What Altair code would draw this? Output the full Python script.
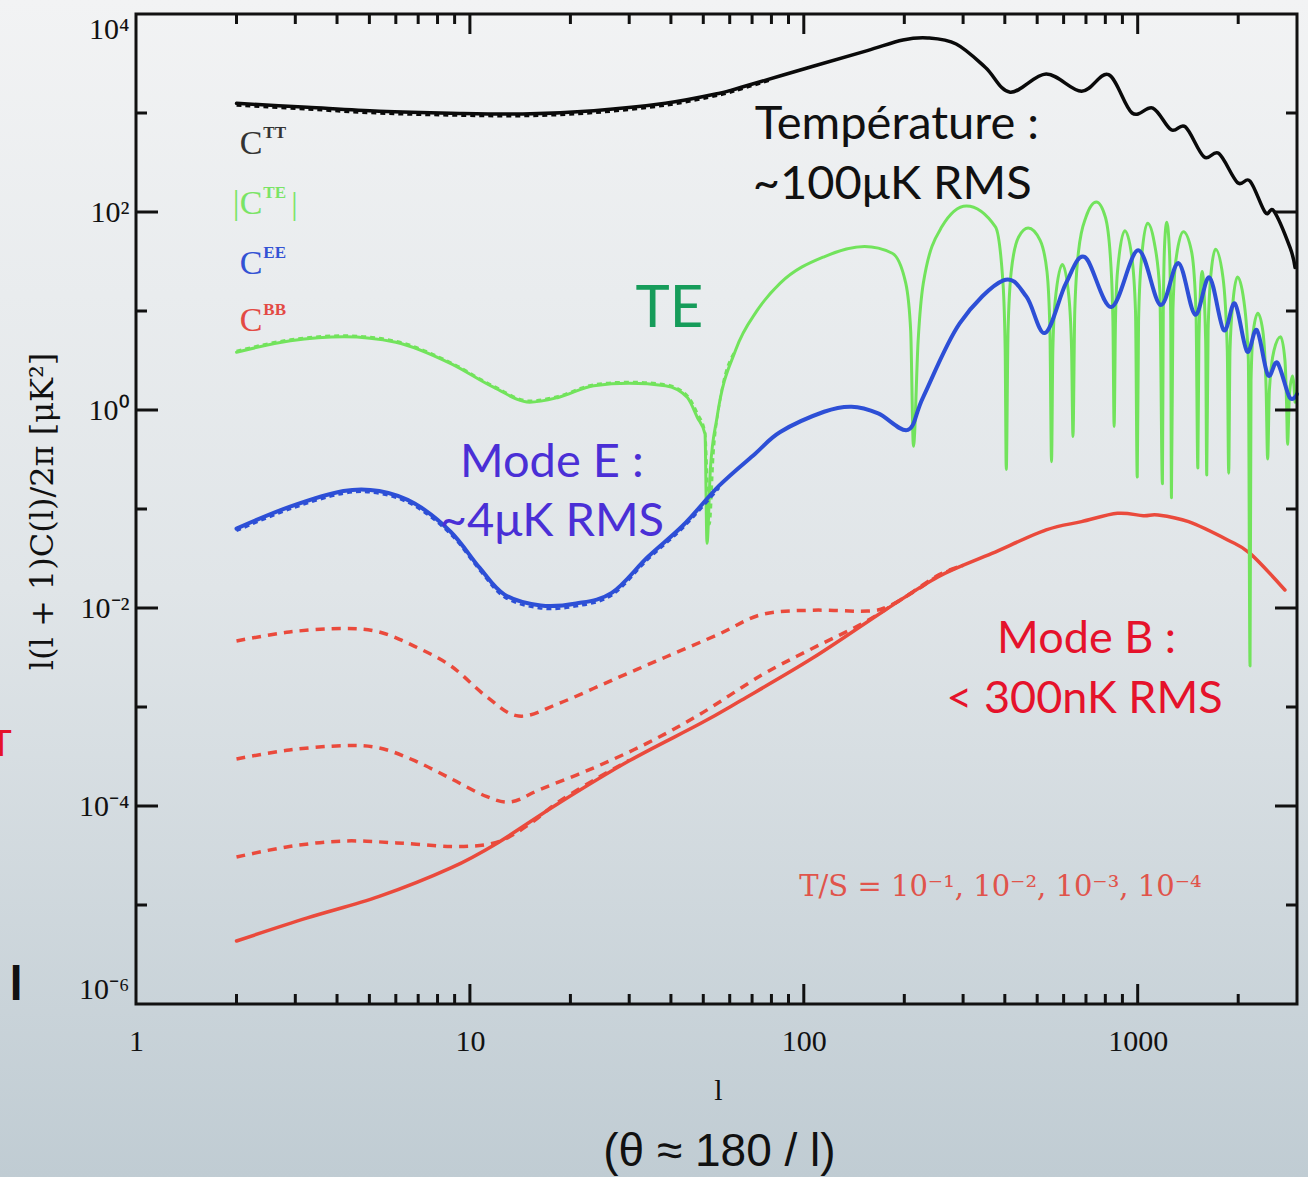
import altair as alt
import pandas as pd

PLOT_W, PLOT_H = 1161, 990

# ---------------- CMB power spectra, l(l+1)C_l/2pi in muK^2 ----------------
tt_l = [2, 3.26, 5.35, 8.77, 14.4, 23.5, 38.5, 56, 65, 106,
        155, 198, 235, 286, 350, 415, 532, 679, 818, 962,
        1110, 1260, 1390, 1580, 1750, 1990, 2170, 2410, 2560, 2860, 2960]
tt_v = [1253, 1140, 1040, 993, 977, 1054, 1253, 1585, 1820, 2950,
        4266, 5458, 5728, 4977, 2884, 1622, 2477, 1656, 2438, 1000,
        1122, 676, 724, 360, 390, 198, 205, 99, 102, 43.7, 27.5]
tt2_l = [2, 3.26, 5.35, 8.77, 14.4, 23.5, 38.5, 56, 65, 80]
tt2_v = [1190, 1085, 990, 945, 930, 1000, 1190, 1510, 1740, 2150]

te_l = [2, 2.9, 4.2, 6.0, 8.8, 11.8, 15.1, 18.4, 23.5, 30, 38.5, 44.8, 48, 50.6, 51.3,
        52.5, 55, 62.5, 72.6, 85, 115, 152, 184, 202, 209, 213,
        220, 228, 259, 307, 375, 395, 401, 404,
        409, 418, 440, 470, 510, 535, 546, 552,
        557, 566, 595, 622, 634, 640,
        648, 665, 700, 752, 800, 830, 843, 850,
        858, 870, 915, 960, 985, 997,
        1006, 1025, 1070, 1120, 1165, 1186,
        1193, 1205, 1222, 1245, 1256, 1262,
        1275, 1300, 1370, 1450, 1495, 1514,
        1525, 1560, 1598, 1610,
        1625, 1660, 1710, 1800, 1855, 1873,
        1890, 1930, 1990, 2080, 2145, 2170,
        2185, 2220, 2290, 2370, 2425, 2450,
        2480, 2560, 2680, 2760, 2795, 2810,
        2850, 2910, 2960]
te_v = [3.83, 5.0, 5.5, 4.83, 2.92, 1.69, 1.2, 1.34, 1.76, 1.86, 1.76, 1.34, 0.84, 0.575, 0.045,
        0.25, 0.85, 4.04, 10.2, 19.1, 35.3, 44.7, 38.3, 19.1, 6.3, 0.43,
        5.0, 19.1, 70.8, 115, 70.8, 19.1, 4.0, 0.25,
        6.3, 25, 56, 69, 52, 25, 6.3, 0.30,
        4.0, 12.6, 29.5, 14.1, 4.0, 0.54,
        10, 40, 89, 126, 89, 31.6, 7.9, 0.68,
        7.9, 25, 64.6, 35.5, 10, 0.21,
        7.9, 31.6, 77, 50, 15.8, 0.18,
        10, 50, 79, 40, 8, 0.13,
        10, 31.6, 63, 39.8, 10, 0.26,
        5.0, 25, 5.0, 0.22,
        6.3, 25, 42, 22, 4.0, 0.23,
        4.0, 12.6, 22, 12.6, 3.2, 0.0026,
        2.0, 6.3, 9.5, 6.3, 1.6, 0.32,
        1.6, 4.0, 5.5, 3.2, 1.0, 0.45,
        1.5, 2.2, 1.2]
te2_l = [2, 2.9, 4.2, 6.0, 8.8, 11.8, 15.1, 18.4, 23.5, 30, 38.5, 44.8, 48, 50.6, 52.2, 53.6, 56, 62.5]
te2_v = [3.95, 5.15, 5.65, 4.97, 3.0, 1.74, 1.24, 1.38, 1.81, 1.92, 1.81, 1.40, 0.93, 0.6, 0.07, 0.35, 1.2, 4.04]

ee_l = [2, 2.88, 4.18, 5.35, 6.83, 8.77, 10.7, 12.7, 16.3, 20.8,
        26.6, 34.1, 43.6, 55.8, 71.4, 85, 115, 139, 167, 205,
        228, 293, 396, 464, 528, 610, 695, 834, 1003, 1170,
        1325, 1485, 1640, 1810, 1955, 2125, 2275, 2455, 2620, 2850, 3000]
ee_v = [0.0634, 0.105, 0.152, 0.152, 0.1135, 0.0586, 0.0254, 0.01365, 0.0106, 0.0111,
        0.0142, 0.0327, 0.0689, 0.172, 0.36, 0.6, 0.96, 1.08, 0.925, 0.63,
        1.36, 7.5, 20.4, 14.0, 6.0, 19.1, 35.0, 11.0, 41.0, 11.5,
        30.5, 9.2, 21.8, 6.4, 11.9, 3.9, 6.4, 2.25, 3.0, 1.34, 1.45]
ee2_l = [2, 2.88, 4.18, 5.35, 6.83, 8.77, 10.7, 12.7, 16.3, 20.8, 26.6, 34.1, 43.6, 55.8]
ee2_v = [0.0600, 0.099, 0.143, 0.143, 0.107, 0.0552, 0.0240, 0.0128, 0.0099, 0.0104,
         0.0134, 0.0308, 0.065, 0.163]

# B modes: lensing (solid) and tensor contributions for several T/S (dashed)
bb_l = [2, 3.26, 5.35, 8.77, 12.1, 18.4, 30, 49, 65, 106,
        175, 253, 366, 532, 679, 870, 1040, 1150, 1420, 1860, 2170, 2760]
bb_v = [4.33e-6, 7.4e-6, 1.22e-5, 2.37e-5, 4.24e-5, 1.06e-4, 2.86e-4, 6.8e-4, 1.17e-3, 3.1e-3,
        9.5e-3, 0.0207, 0.0356, 0.0614, 0.0745, 0.0904, 0.0856, 0.087, 0.0745, 0.0487, 0.0356, 0.0152]
bd1_l = [2, 2.88, 4.18, 5.35, 6.83, 8.77, 11.2, 14.0, 18.4, 26.6,
         38.6, 55.8, 74.8, 106, 155, 180, 220, 253, 300]
bd1_v = [4.64e-3, 5.73e-3, 6.2e-3, 5.73e-3, 4.1e-3, 2.6e-3, 1.28e-3, 8.1e-4, 1.08e-3, 1.86e-3,
         3.2e-3, 5.46e-3, 8.6e-3, 9.5e-3, 9.3e-3, 0.0105, 0.0155, 0.0212, 0.027]
bd2_l = [2, 2.88, 4.18, 5.35, 6.83, 8.77, 11.2, 13.3, 16.3, 23.5,
         34.1, 49, 74.8, 106, 150, 200, 253, 300]
bd2_v = [2.99e-4, 3.68e-4, 4.07e-4, 3.86e-4, 2.87e-4, 1.89e-4, 1.25e-4, 1.1e-4, 1.48e-4, 2.43e-4,
         4.34e-4, 8.5e-4, 2.1e-3, 3.9e-3, 7.0e-3, 0.0128, 0.0215, 0.027]
bd3_l = [2, 2.88, 4.18, 6.04, 8.77, 11.2, 13.0, 15.5, 18.4, 24, 30]
bd3_v = [3.05e-5, 3.9e-5, 4.43e-5, 4.24e-5, 3.9e-5, 4.07e-5, 4.8e-5, 7.0e-5, 1.1e-4, 1.9e-4, 2.9e-4]

# ---------------- axes ----------------
x_tick_vals = [1, 10, 100, 1000]
x_tick_text = ["1", "10", "100", "1000"]
y_tick_vals = [1e-6, 1e-4, 1e-2, 1, 1e2, 1e4]
y_tick_text = ["10⁻⁶", "10⁻⁴", "10⁻²", "10⁰", "10²", "10⁴"]

x_major = [10, 100, 1000]
x_minor = [2, 3, 4, 5, 6, 7, 8, 9, 20, 30, 40, 50, 60, 70, 80, 90,
           200, 300, 400, 500, 600, 700, 800, 900, 2000]
y_major = [1e-4, 1e-2, 1, 1e2]
y_minor = [1e-5, 1e-3, 1e-1, 10, 1e3]

# ---------------- annotations ----------------
note_text = ["Température :", "~100μK RMS", "TE", "Mode E :", "~4μK RMS", "Mode B :", "< 300nK RMS"]
note_l = [190, 184, 39.6, 17.6, 17.6, 703, 693]
note_v = [757, 187.5, 10.2, 0.292, 0.074, 4.86e-3, 1.2e-3]
note_col = ["#111111", "#111111", "#169c5a", "#4a2fd6", "#4a2fd6", "#e5122b", "#e5122b"]
note_size = [47, 47, 58, 47, 47, 45, 45]

leg_base = ["C", "|C", "C", "C"]
leg_sup = ["TT", "TE", "EE", "BB"]
leg_v = [486, 120, 29.8, 7.9]
leg_col = ["#333333", "#7ae466", "#3352d4", "#e34a44"]
leg_anchor_l = 2.39

ts_text = "T/S = 10⁻¹, 10⁻², 10⁻³, 10⁻⁴"


def ternary(vals, texts, step):
    expr = f"'{texts[-1]}'"
    for v, t in reversed(list(zip(vals[:-1], texts[:-1]))):
        expr = f"datum.value < {v * step:g} ? '{t}' : " + expr
    return expr


x_axis = alt.Axis(values=x_tick_vals, labelExpr=ternary(x_tick_vals, x_tick_text, 3),
                  ticks=False, domain=False, grid=False,
                  labelFont="Liberation Serif", labelFontSize=30, labelColor="#111111",
                  labelPadding=22, labelFlush=False, labelOverlap=False,
                  title="l", titleFont="Liberation Serif", titleFontSize=30,
                  titleFontWeight="normal", titleColor="#111111",
                  titleX=582, titleY=86, titleAlign="center", titleBaseline="middle", zindex=1)
y_axis = alt.Axis(values=y_tick_vals, labelExpr=ternary(y_tick_vals, y_tick_text, 10),
                  ticks=False, domain=False, grid=False,
                  labelFont="Liberation Serif", labelFontSize=30, labelColor="#111111",
                  labelPadding=7, labelFlush=True, labelOverlap=False,
                  title="l(l + 1)C(l)/2π  [μK²]", titleFont="DejaVu Serif", titleFontSize=32,
                  titleFontWeight="normal", titleColor="#111111", titleAngle=270,
                  titleX=-94, titleY=497, titleAlign="center", titleBaseline="middle", zindex=1)

X = alt.X("l:Q", scale=alt.Scale(type="log", domain=[1, 3000], nice=False), axis=x_axis)
Y = alt.Y("v:Q", scale=alt.Scale(type="log", domain=[1e-6, 1e4], nice=False), axis=y_axis)

one = pd.DataFrame({"k": [0]})


def curve(ls, vs, color, width, dash=None, interp="cardinal"):
    df = pd.DataFrame({"l": ls, "v": vs})
    kw = dict(color=color, strokeWidth=width, interpolate=interp, strokeJoin="round")
    if dash:
        kw["strokeDash"] = dash
    else:
        kw["strokeCap"] = "round"
    return alt.Chart(df).mark_line(**kw).encode(x=X, y=Y)


def x_ticks(vals, length, top):
    df = pd.DataFrame({"l": vals})
    y0, y1 = (0, length) if top else (PLOT_H, PLOT_H - length)
    return alt.Chart(df).mark_rule(color="#111111", strokeWidth=3).encode(
        x=X, y=alt.value(y0), y2=alt.value(y1))


def y_ticks(vals, length, right):
    df = pd.DataFrame({"v": vals})
    x0, x1 = (PLOT_W, PLOT_W - length) if right else (0, length)
    return alt.Chart(df).mark_rule(color="#111111", strokeWidth=3).encode(
        y=Y, x=alt.value(x0), x2=alt.value(x1))


background = alt.Chart(one).mark_rect(
    color=alt.LinearGradient(
        gradient="linear",
        stops=[alt.GradientStop(color="#f2f3f4", offset=0),
               alt.GradientStop(color="#e0e5e8", offset=0.5),
               alt.GradientStop(color="#c0ccd3", offset=1)],
        x1=0, x2=0, y1=0, y2=1)
).encode(x=alt.value(-136), x2=alt.value(PLOT_W + 11),
         y=alt.value(-14), y2=alt.value(PLOT_H + 173))

RED, GREEN, BLUE, BLACK = "#ea4a3c", "#72e35c", "#2d4fd6", "#0a0a0a"

curves = [
    curve(bd1_l, bd1_v, RED, 3.5, [9, 7]),
    curve(bd2_l, bd2_v, RED, 3.5, [9, 7]),
    curve(bd3_l, bd3_v, RED, 3.5, [9, 7]),
    curve(bb_l, bb_v, RED, 3.5),
    curve(te2_l, te2_v, GREEN, 2.5, [5, 4], "monotone"),
    curve(te_l, te_v, GREEN, 3, None, "monotone"),
    curve(ee2_l, ee2_v, BLUE, 2.5, [5, 4]),
    curve(ee_l, ee_v, BLUE, 4),
    curve(tt2_l, tt2_v, BLACK, 2.5, [5, 4]),
    curve(tt_l, tt_v, BLACK, 3.5),
]

ticks = [
    x_ticks(x_major, 20, False), x_ticks(x_minor, 10, False),
    x_ticks(x_major, 20, True), x_ticks(x_minor, 10, True),
    y_ticks(y_major, 22, False), y_ticks(y_minor, 11, False),
    y_ticks(y_major, 22, True), y_ticks(y_minor, 11, True),
]

frame = alt.Chart(one).mark_rect(filled=False, stroke="#111111", strokeWidth=3).encode(
    x=alt.value(0), x2=alt.value(PLOT_W), y=alt.value(0), y2=alt.value(PLOT_H))

notes_df = pd.DataFrame({"l": note_l, "v": note_v, "t": note_text,
                         "c": note_col, "s": note_size})
notes = alt.Chart(notes_df).mark_text(font="Lato", align="center", baseline="middle").encode(
    x=X, y=Y, text="t:N", color=alt.Color("c:N", scale=None), size=alt.Size("s:Q", scale=None))

leg_df = pd.DataFrame({"l": [leg_anchor_l] * 4, "v": leg_v, "b": leg_base,
                       "s": leg_sup, "c": leg_col})
leg_base_layer = alt.Chart(leg_df).mark_text(
    font="Liberation Serif", fontSize=34, align="right", baseline="middle").encode(
    x=X, y=Y, text="b:N", color=alt.Color("c:N", scale=None))
leg_sup_layer = alt.Chart(leg_df).mark_text(
    font="Liberation Serif", fontSize=17, fontWeight="bold", align="left",
    baseline="middle", dx=1, dy=-11).encode(
    x=X, y=Y, text="s:N", color=alt.Color("c:N", scale=None))
leg_bar = alt.Chart(pd.DataFrame({"l": [2.98], "v": [leg_v[1]], "t": ["|"]})).mark_text(
    font="Liberation Serif", fontSize=32, align="center", baseline="middle",
    color=leg_col[1]).encode(x=X, y=Y, text="t:N")

ts = alt.Chart(pd.DataFrame({"l": [388], "v": [1.52e-5], "t": [ts_text]})).mark_text(
    font="DejaVu Serif", fontSize=29, align="center", baseline="middle",
    color="#e0544b").encode(x=X, y=Y, text="t:N")

theta = alt.Chart(pd.DataFrame({"l": [55.9], "t": ["(θ ≈ 180 / l)"]})).mark_text(
    font="Liberation Sans", fontSize=46, align="center", baseline="middle",
    color="#111111").encode(x=X, y=alt.value(1138), text="t:N")

edge_T = alt.Chart(pd.DataFrame({"t": ["T"]})).mark_text(
    font="Lato", fontSize=36, align="center", baseline="middle", color="#e5122b").encode(
    x=alt.value(-135), y=alt.value(731), text="t:N")
edge_I = alt.Chart(pd.DataFrame({"t": ["I"]})).mark_text(
    font="Lato", fontSize=48, fontWeight="bold", align="center", baseline="middle",
    color="#111111").encode(x=alt.value(-120), y=alt.value(972), text="t:N")

chart = alt.layer(
    background, *curves, *ticks, frame,
    leg_base_layer, leg_sup_layer, leg_bar, notes, ts, theta, edge_T, edge_I
).properties(
    width=PLOT_W, height=PLOT_H,
    autosize=alt.AutoSizeParams(type="none"),
    padding={"left": 136, "top": 14, "right": 11, "bottom": 173},
    background="#dfe4e7",
).configure_view(strokeWidth=0)

chart.save("out.html", embed_options={"renderer": "svg", "actions": False})
